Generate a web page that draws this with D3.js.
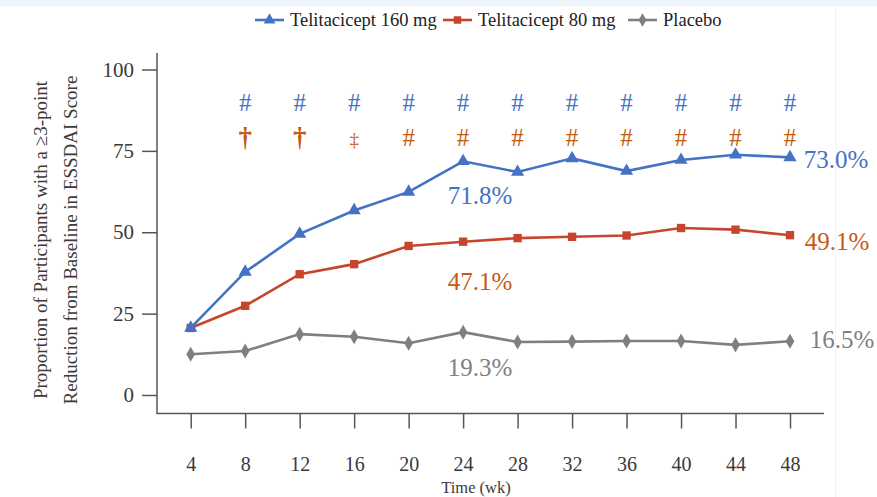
<!DOCTYPE html>
<html>
<head>
<meta charset="utf-8">
<script src="https://cdn.jsdelivr.net/npm/d3@7"></script>
<style>
  body { margin: 0; background: #fff; }
  svg { display: block; font-family: "Liberation Serif", "DejaVu Serif", serif; }
</style>
</head>
<body>
<div id="chart"></div>
<script>
// data
var weeks = [4, 8, 12, 16, 20, 24, 28, 32, 36, 40, 44, 48];
var dose160 = [20.6, 37.8, 49.5, 56.7, 62.4, 71.8, 68.5, 72.7, 68.8, 72.2, 73.8, 73.0];
var dose80 = [20.6, 27.4, 37.1, 40.2, 45.8, 47.1, 48.2, 48.6, 49.0, 51.3, 50.8, 49.1];
var placebo = [12.5, 13.5, 18.7, 17.9, 15.9, 19.3, 16.3, 16.4, 16.6, 16.6, 15.4, 16.5];
var yTicks = [0, 25, 50, 75, 100];
// significance marks above each week (blank = none)
var sig160 = ['', '#', '#', '#', '#', '#', '#', '#', '#', '#', '#', '#'];
var sig80 = ['', '\u2020', '\u2020', '\u2021', '#', '#', '#', '#', '#', '#', '#', '#'];

var W = 877, H = 497;
var blue = '#4472c4', red = '#c8452d', orange = '#c55a11', gray = '#7f7f7f';

var svg = d3.select('#chart').append('svg')
    .attr('width', W)
    .attr('height', H);

// faint top strip and right edge from the source image
svg.append('rect').attr('x', 0).attr('y', 0).attr('width', W).attr('height', 6).attr('fill', '#eef5fc');
svg.append('line').attr('x1', 835.5).attr('x2', 835.5).attr('y1', 6).attr('y2', H)
    .attr('stroke', '#f3f3f3');

var x = d3.scaleLinear().domain([4, 48]).range([190.7, 790]);
var y = d3.scaleLinear().domain([0, 100]).range([395, 69.5]);

// y axis
var gy = svg.append('g')
    .attr('transform', 'translate(157,0)')
    .call(d3.axisLeft(y).tickValues(yTicks).tickSize(15).tickPadding(8).tickSizeOuter(0));
gy.select('.domain').remove();
gy.selectAll('.tick line').attr('stroke', '#555').attr('stroke-width', 1.5);
gy.selectAll('.tick text').attr('font-size', 21).attr('fill', '#3a3a3a')
    .attr('font-family', '"Liberation Serif", serif');

// axis frame lines
svg.append('path')
    .attr('d', 'M157,53V413.5H824')
    .attr('fill', 'none').attr('stroke', '#555').attr('stroke-width', 1.5);

// x axis
var gx = svg.append('g')
    .attr('transform', 'translate(0,413.5)')
    .call(d3.axisBottom(x).tickValues(weeks).tickSize(15).tickPadding(28).tickSizeOuter(0));
gx.select('.domain').remove();
gx.selectAll('.tick line').attr('stroke', '#555').attr('stroke-width', 1.5);
gx.selectAll('.tick text').attr('font-size', 20).attr('fill', '#3a3a3a')
    .attr('font-family', '"Liberation Serif", serif');

svg.append('text')
    .attr('x', 476).attr('y', 493)
    .attr('text-anchor', 'middle')
    .attr('font-size', 16.5).attr('fill', '#3a3a3a')
    .text('Time (wk)');

// y axis title, two lines
var yt = svg.append('text')
    .attr('transform', 'translate(0,240) rotate(-90)')
    .attr('text-anchor', 'middle')
    .attr('font-size', 19).attr('fill', '#3a3a3a');
yt.append('tspan').attr('x', 0).attr('y', 47).text('Proportion of Participants with a \u22653-point');
yt.append('tspan').attr('x', 0).attr('y', 77).text('Reduction from Baseline in ESSDAI Score');

// series
var series = [
    { name: 'Telitacicept 160 mg', values: dose160, color: blue, shape: d3.symbolTriangle, size: 75 },
    { name: 'Telitacicept 80 mg', values: dose80, color: red, shape: d3.symbolSquare, size: 70 },
    { name: 'Placebo', values: placebo, color: gray, shape: d3.symbolDiamond, size: 65 }
];

var line = d3.line()
    .x(function(d, i) { return x(weeks[i]); })
    .y(function(d) { return y(d); });

// draw placebo first so the active arms are on top
series.slice().reverse().forEach(function(s) {
    svg.append('path')
        .attr('d', line(s.values))
        .attr('fill', 'none')
        .attr('stroke', s.color)
        .attr('stroke-width', 2.6);

    svg.selectAll(null)
        .data(s.values)
        .enter()
        .append('path')
        .attr('d', d3.symbol().type(s.shape).size(s.size))
        .attr('transform', function(d, i) { return 'translate(' + x(weeks[i]) + ',' + y(d) + ')'; })
        .attr('fill', s.color);
});

// significance rows
svg.selectAll('text.sig160')
    .data(sig160)
    .enter()
    .append('text')
    .attr('class', 'sig160')
    .attr('x', function(d, i) { return x(weeks[i]); })
    .attr('y', 111)
    .attr('text-anchor', 'middle')
    .attr('font-size', 25)
    .attr('fill', blue)
    .text(function(d) { return d; });

svg.selectAll('text.sig80')
    .data(sig80)
    .enter()
    .append('text')
    .attr('class', 'sig80')
    .attr('x', function(d, i) { return x(weeks[i]); })
    .attr('y', 146)
    .attr('text-anchor', 'middle')
    .attr('font-size', function(d) { return d == '\u2020' ? 27 : (d == '\u2021' ? 19 : 25); })
    .attr('font-weight', function(d) { return d == '\u2020' ? 'bold' : 'normal'; })
    .attr('fill', orange)
    .text(function(d) { return d; });

// value callouts
var callouts = [
    { text: '71.8%', x: 480, y: 204, color: blue },
    { text: '47.1%', x: 480, y: 290, color: orange },
    { text: '19.3%', x: 480, y: 376, color: gray },
    { text: '73.0%', x: 836, y: 168, color: blue },
    { text: '49.1%', x: 837, y: 250, color: orange },
    { text: '16.5%', x: 842, y: 348, color: gray }
];
svg.selectAll('text.callout')
    .data(callouts)
    .enter()
    .append('text')
    .attr('class', 'callout')
    .attr('x', function(d) { return d.x; })
    .attr('y', function(d) { return d.y; })
    .attr('text-anchor', 'middle')
    .attr('font-size', 25)
    .attr('fill', function(d) { return d.color; })
    .text(function(d) { return d.text; });

// legend
var legendX = [255, 443, 628];
var lg = svg.selectAll('g.legend')
    .data(series)
    .enter()
    .append('g')
    .attr('class', 'legend')
    .attr('transform', function(d, i) { return 'translate(' + legendX[i] + ',20)'; });
lg.append('line')
    .attr('x1', 0).attr('x2', 29)
    .attr('stroke', function(d) { return d.color; })
    .attr('stroke-width', 2.6);
lg.append('path')
    .attr('d', function(d) { return d3.symbol().type(d.shape).size(d.size * 0.8)(); })
    .attr('transform', 'translate(14.5,0)')
    .attr('fill', function(d) { return d.color; });
lg.append('text')
    .attr('x', 35).attr('y', 6)
    .attr('font-size', 18.5)
    .attr('fill', '#222')
    .text(function(d) { return d.name; });
</script>
</body>
</html>
